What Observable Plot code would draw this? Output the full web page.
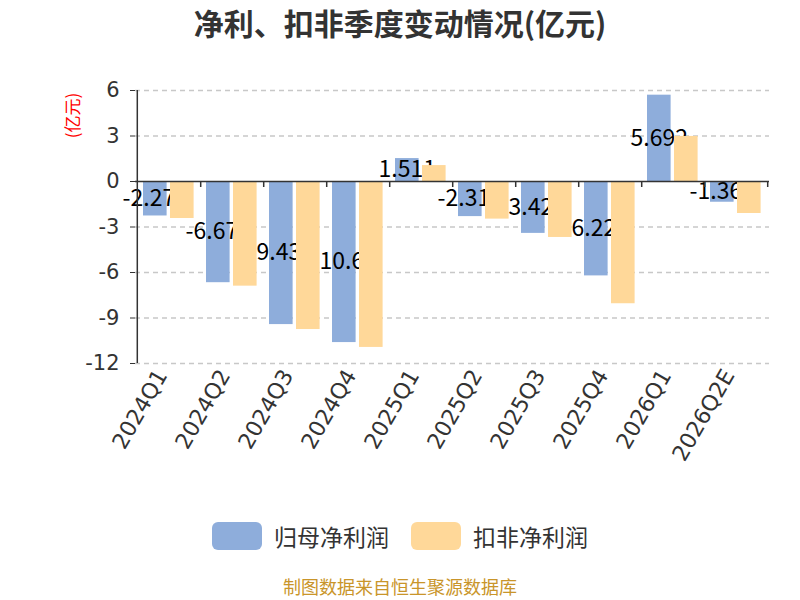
<!DOCTYPE html>
<html>
<head>
<meta charset="utf-8">
<script src="https://cdn.jsdelivr.net/npm/d3@7"></script>
<script src="https://cdn.jsdelivr.net/npm/@observablehq/plot@0.6"></script>
<style>
  body { margin: 0; background: #fff; font-family: "Noto Sans CJK SC", "Noto Sans", sans-serif; }
  #wrap { position: relative; width: 800px; height: 600px; overflow: hidden; }
  #title { position: absolute; left: 0; top: 0; width: 800px; height: 44px; line-height: 44px; text-align: center;
           font-size: 30px; font-weight: bold; color: #333; }
  #chart { position: absolute; left: 0; top: 50px; }
  #legend { position: absolute; left: 0; top: 522px; width: 800px; height: 28px; display: flex; justify-content: center; align-items: center; }
  .item { display: flex; align-items: center; margin: 0 11px; font-size: 23px; color: #333; }
  .sw { width: 50px; height: 28px; border-radius: 6px; margin-right: 12px; }
  #caption { position: absolute; left: 0; top: 575px; width: 800px; text-align: center; font-size: 18px; color: #c9952a; line-height: 22px; }
</style>
</head>
<body>
<div id="wrap">
  <div id="title">净利、扣非季度变动情况(亿元)</div>
  <div id="chart"></div>
  <div id="legend"></div>
  <div id="caption">制图数据来自恒生聚源数据库</div>
</div>
<script>
const quarters = ["2024Q1","2024Q2","2024Q3","2024Q4","2025Q1","2025Q2","2025Q3","2025Q4","2026Q1","2026Q2E"];
const netProfit = [-2.273, -6.672, -9.434, -10.62, 1.511, -2.314, -3.421, -6.224, 5.692, -1.367];
const deductedProfit = [-2.44, -6.9, -9.76, -10.94, 1.05, -2.48, -3.69, -8.06, 2.97, -2.11];
const seriesNames = ["归母净利润", "扣非净利润"];
const seriesColors = ["#8eaddb", "#ffd899"];
const yTicks = [6, 3, 0, -3, -6, -9, -12];
const unitLabel = "(亿元)";

const blue = quarters.map((q, i) => ({q, v: netProfit[i]}));
const yellow = quarters.map((q, i) => ({q, v: deductedProfit[i]}));

const width = 800, height = 450;
const marginLeft = 135, marginRight = 31, marginTop = 40, marginBottom = 137;
const step = (width - marginLeft - marginRight) / quarters.length;

const font = '"Noto Sans CJK SC", "Noto Sans", sans-serif';
const tickFont = '"DejaVu Sans", sans-serif';

const chart = Plot.plot({
  width, height, marginLeft, marginRight, marginTop, marginBottom,
  style: {fontFamily: font, background: "#fff", overflow: "visible"},
  x: {type: "band", domain: quarters, padding: 0},
  y: {domain: [-12, 6], ticks: yTicks},
  marks: [
    Plot.ruleY(yTicks.filter(t => t !== 0), {stroke: "#c8c8c8", strokeWidth: 1.3, strokeDasharray: "5,4"}),
    Plot.barY(blue, {x: "q", y: "v", fill: seriesColors[0], insetLeft: 6, insetRight: step - 30}),
    Plot.text(blue, {x: "q", y: d => d.v / 2, text: d => String(d.v), dx: 18 - step / 2, fontSize: 23, fill: "#000"}),
    Plot.barY(yellow, {x: "q", y: "v", fill: seriesColors[1], insetLeft: 33, insetRight: step - 57}),
    Plot.ruleY([0], {stroke: "#333", strokeWidth: 1.5}),
    Plot.ruleX(quarters, {x: d => d, y1: 0, y2: 0, dx: step / 2, insetBottom: -6, stroke: "#333", strokeWidth: 1.5}),
    Plot.ruleX([quarters[0]], {x: d => d, dx: -step / 2, stroke: "#333", strokeWidth: 1.5}),
    Plot.axisY({ticks: yTicks, tickSize: 5, tickPadding: 11, fontSize: 21, fontFamily: tickFont, color: "#333", label: null, tickFormat: d => String(d)}),
    Plot.axisX({anchor: "bottom", tickSize: 0, tickPadding: 8, tickRotate: -60, fontSize: 22, fontFamily: tickFont, dx: -7, color: "#333", label: null}),
    Plot.text([unitLabel], {frameAnchor: "top-left", text: d => d, textAnchor: "middle", lineAnchor: "middle", dx: 73 - marginLeft, dy: 65 - marginTop, rotate: -90, fill: "red", fontSize: 17})
  ]
});
document.getElementById("chart").appendChild(chart);

const legend = document.getElementById("legend");
seriesNames.forEach((name, i) => {
  const item = document.createElement("div");
  item.className = "item";
  const sw = document.createElement("div");
  sw.className = "sw";
  sw.style.background = seriesColors[i];
  const t = document.createElement("span");
  t.textContent = name;
  item.appendChild(sw);
  item.appendChild(t);
  legend.appendChild(item);
});
</script>
</body>
</html>
